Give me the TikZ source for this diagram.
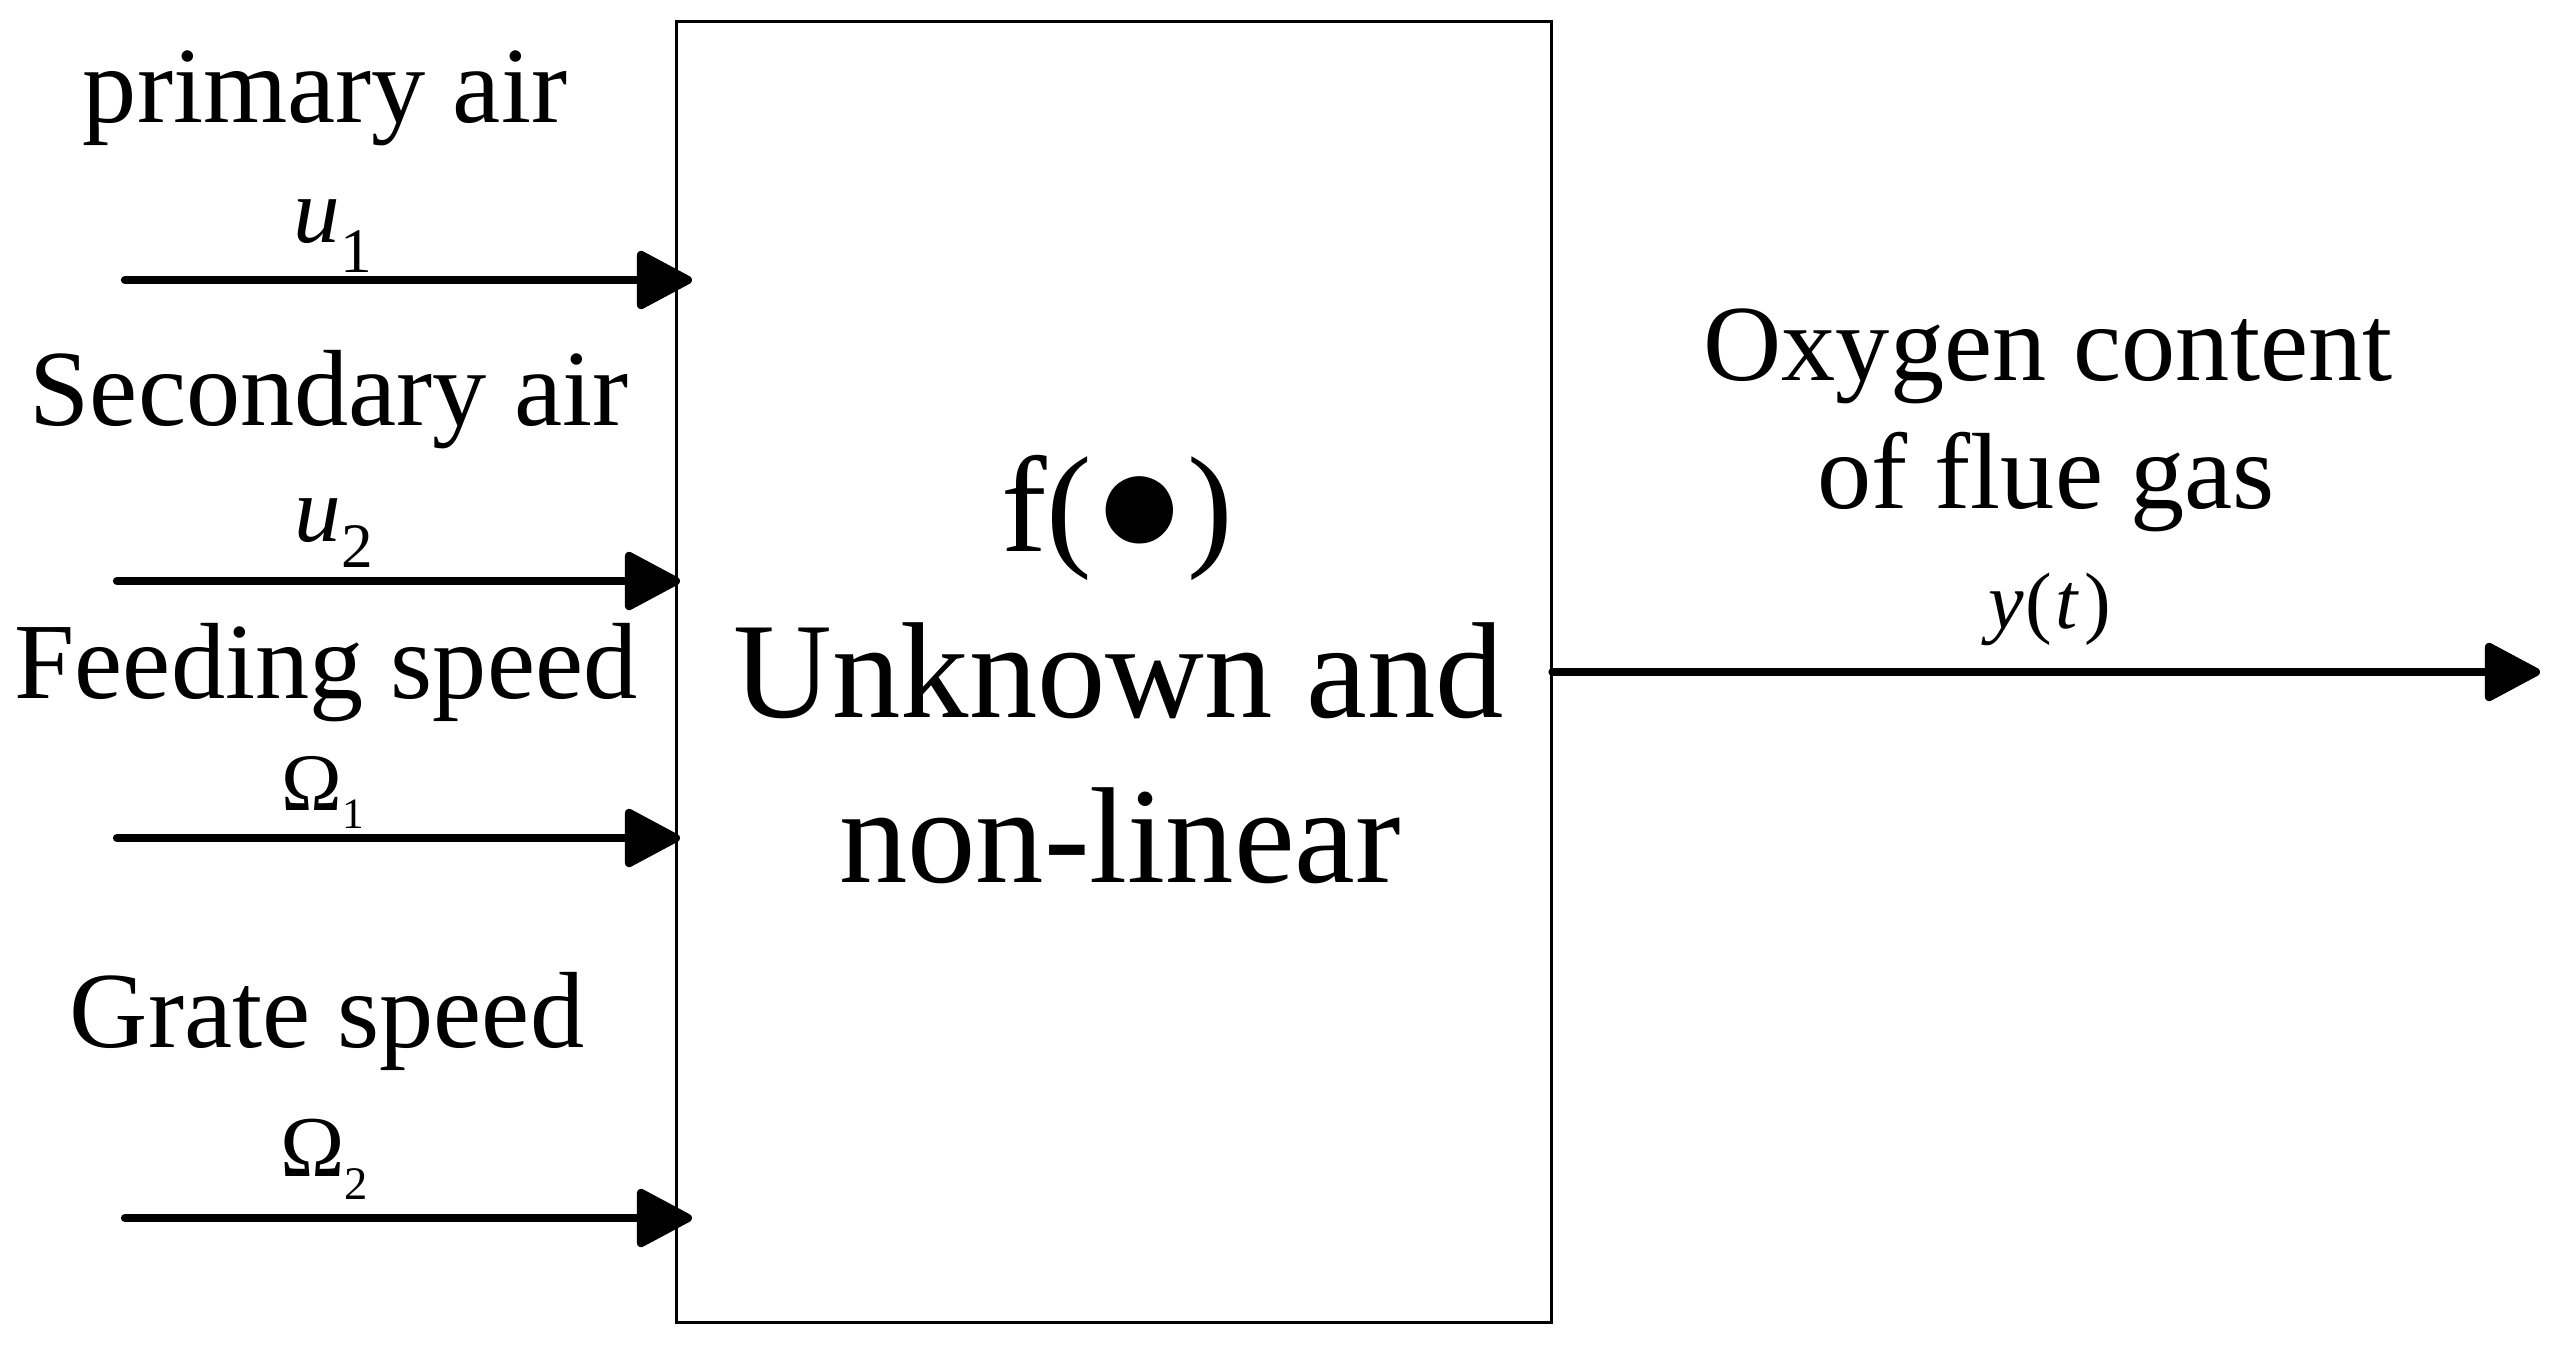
\documentclass[tikz,border=0pt]{standalone}
\usepackage{fontspec}
\setmainfont{Liberation Serif}
\usetikzlibrary{arrows.meta}
\begin{document}
\begin{tikzpicture}[x=0.3pt,y=-0.3pt,
  lbl/.style={anchor=base, inner sep=0pt, font=\fontsize{32.5}{39}\selectfont},
  sym/.style={anchor=base, inner sep=0pt},
  ctr/.style={anchor=base, inner sep=0pt, font=\fontsize{41}{49}\selectfont},
  inarrow/.style={line width=2.5pt, line cap=round, -{Triangle[length=18pt,width=18.5pt,round]}}]
\fill[white] (0,0) rectangle (2553,1344);
\useasboundingbox (0,0) rectangle (2553,1344);
\node[draw, line width=0.9pt, minimum width=262.5pt, minimum height=390.3pt, inner sep=0pt] (box) at (1113.5,671.5) {};
% left labels
\node[lbl] (pa) at (325,122) {primary air};
\node[sym] (u1) at (333,242) {\fontsize{28}{30}\selectfont\textit{u}\raisebox{-9pt}{\fontsize{19}{20}\selectfont 1}};
\node[lbl] (sa) at (329,425) {Secondary air};
\node[sym] (u2) at (334,541) {\fontsize{28}{30}\selectfont\textit{u}\raisebox{-7.8pt}{\fontsize{19}{20}\selectfont 2}};
\node[lbl] (fs) at (326,698) {Feeding speed};
\node[sym] (o1) at (323,810) {\fontsize{24.5}{26}\selectfont Ω\raisebox{-5.4pt}{\fontsize{13}{14}\selectfont 1}};
\node[lbl] (gs) at (327,1047) {Grate speed};
\node[sym] (o2) at (324,1176) {\fontsize{26}{28}\selectfont Ω\raisebox{-6.9pt}{\fontsize{14}{15}\selectfont 2}};
% right labels
\node[lbl] (oc) at (2048,380) {Oxygen content};
\node[lbl] (fg) at (2046,508) {of flue gas};
\node[sym] (yt) at (2050,628) {\fontsize{24}{26}\selectfont\textit{y}\kern0.5pt(\kern1pt\textit{t}\kern1.5pt)};
% center text
\node[ctr] (f) at (1117,551) {f(\raisebox{-1pt}{\fontsize{47}{47}\selectfont ●})};
\node[ctr] (ua) at (1119,717) {Unknown and};
\node[ctr] (nl) at (1120,882) {non-linear};
% arrows
\coordinate (s1) at (125,280); \coordinate (e1) at (692,280);
\coordinate (s2) at (117,581); \coordinate (e2) at (680,581);
\coordinate (s3) at (117,838); \coordinate (e3) at (680,838);
\coordinate (s4) at (125,1218); \coordinate (e4) at (692,1218);
\coordinate (oe) at (2540,672);
\draw[inarrow] (s1) -- (e1);
\draw[inarrow] (s2) -- (e2);
\draw[inarrow] (s3) -- (e3);
\draw[inarrow] (s4) -- (e4);
\draw[inarrow] (box.east |- oe) -- (oe);
\end{tikzpicture}
\end{document}
